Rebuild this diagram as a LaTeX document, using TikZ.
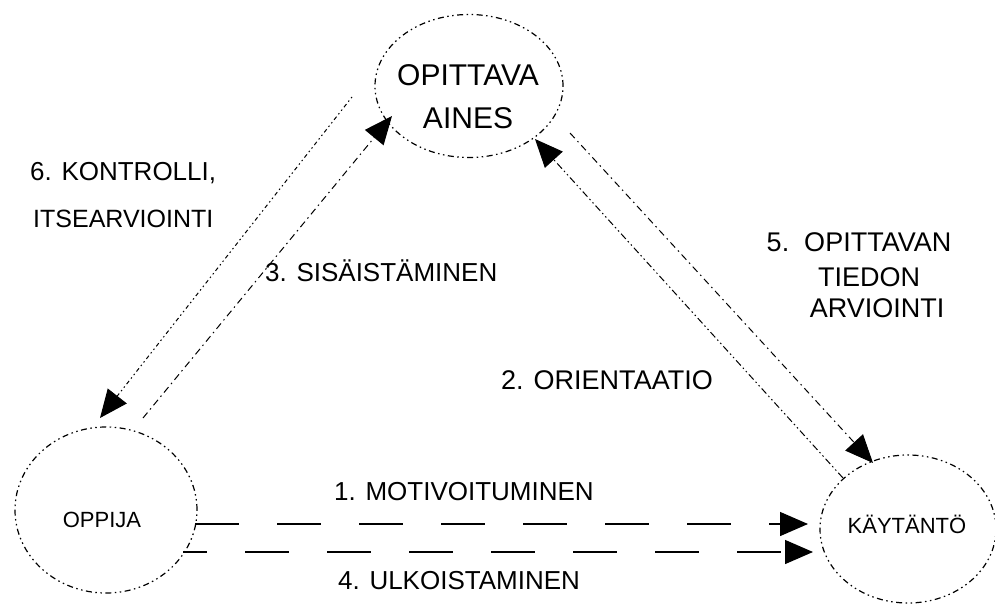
\documentclass[tikz,border=0pt]{standalone}
\usepackage{fontspec}
\setmainfont{Liberation Sans}
\usetikzlibrary{shapes.geometric,arrows.meta}
\tikzset{
  blob/.style={ellipse, draw, line width=1.2pt, inner sep=0pt,
    dash pattern=on 6pt off 3.5pt on 1.5pt off 3.5pt on 1.5pt off 3.5pt},
  lbl/.style={inner sep=0pt, anchor=base west, font=\fontsize{26}{30}\selectfont},
  clbl/.style={inner sep=0pt, anchor=base, font=\fontsize{27}{30}\selectfont},
  conn/.style={line width=1pt, -{Triangle[length=28pt,width=24pt]}},
  dashdot/.style={dash pattern=on 7pt off 4pt on 1.5pt off 4pt},
  dashdotdot/.style={dash pattern=on 7pt off 3pt on 1.5pt off 3pt on 1.5pt off 3pt},
  dotty/.style={dash pattern=on 1.5pt off 3pt on 1.5pt off 3pt on 4pt off 3pt},
  longdash/.style={line width=1.4pt, dash pattern=on 44pt off 38pt}
}
\begin{document}
\begin{tikzpicture}[x=1pt,y=-1pt]
\useasboundingbox (0,0) rectangle (995,604);
% nodes
\node[blob, minimum width=188pt, minimum height=143pt] (aines) at (469,86) {};
\node[blob, minimum width=182pt, minimum height=166pt] (oppija) at (106,510) {};
\node[blob, minimum width=176pt, minimum height=148pt] (kaytanto) at (908,529) {};
\node[inner sep=0pt, align=center, font=\fontsize{30}{43}\selectfont] (ainestext) at (468,96.5) {OPITTAVA\\AINES};
\node[inner sep=0pt, font=\fontsize{22}{25}\selectfont] (oppijatext) at (102,520) {OPPIJA};
\node[inner sep=0pt, font=\fontsize{22}{25}\selectfont] (kaytantotext) at (907,524) {KÄYTÄNTÖ};
% labels
\node[lbl] (l6a) at (30,181) {6. KONTROLLI,};
\node[lbl, font=\fontsize{25}{30}\selectfont] (l6b) at (33,227) {ITSEARVIOINTI};
\node[lbl] (l3) at (265,281) {3. SISÄISTÄMINEN};
\node[clbl] (l5a) at (859,251) {5.\ \ OPITTAVAN};
\node[clbl] (l5b) at (869,286) {TIEDON};
\node[clbl] (l5c) at (877,317) {ARVIOINTI};
\node[lbl, font=\fontsize{27}{30}\selectfont] (l2) at (501,389) {2. ORIENTAATIO};
\node[lbl] (l1) at (334,500) {1. MOTIVOITUMINEN};
\node[lbl] (l4) at (338,589) {4. ULKOISTAMINEN};
% connector end points
\coordinate (c6s) at (352,97);
\coordinate (c6e) at (100,418);
\coordinate (c3s) at (143,418);
\coordinate (c3e) at (392,116);
\coordinate (c2s) at (843,478);
\coordinate (c2e) at (535,139);
\coordinate (c5s) at (570,133);
\coordinate (c5e) at (873,463);
\coordinate (c1s) at (195,524);
\coordinate (c1e) at (808,524);
\coordinate (c4s) at (183,552);
\coordinate (c4e) at (813,552);
% connectors
\draw[conn, dotty] (c6s) -- (c6e);
\draw[conn, dashdot] (c3s) -- (c3e);
\draw[conn, dashdotdot] (c2s) -- (c2e);
\draw[conn, dashdot] (c5s) -- (c5e);
\draw[conn, longdash] (c1s) -- (c1e);
\draw[conn, longdash, dash phase=20pt] (c4s) -- (c4e);
\end{tikzpicture}
\end{document}
